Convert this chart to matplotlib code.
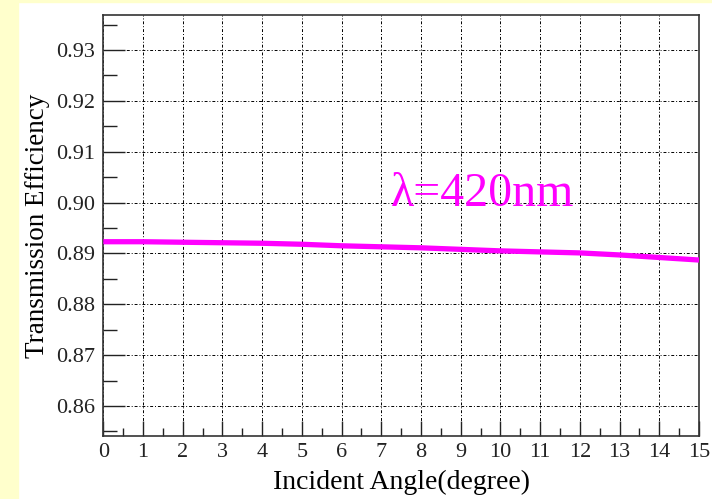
"""
Transmission efficiency vs incident angle at 420 nm
"""

import matplotlib.pyplot as plt
import matplotlib.patches as patches
from matplotlib.ticker import MultipleLocator

angles = [0, 1, 2, 3, 4, 5, 6, 7, 8, 9, 10, 11, 12, 13, 14, 15]
efficiency = [0.8923, 0.8923, 0.8922, 0.8921, 0.8920, 0.8918, 0.8915, 0.8913,
              0.8911, 0.8908, 0.8905, 0.8903, 0.8901, 0.8897, 0.8892, 0.8887]
y_ticks = [0.86, 0.87, 0.88, 0.89, 0.90, 0.91, 0.92, 0.93]
y_tick_labels = ['0.86', '0.87', '0.88', '0.89', '0.90', '0.91', '0.92', '0.93']
x_ticks = list(range(16))
label_text = 'λ=420nm'

plt.rcParams['font.family'] = ['Liberation Serif', 'DejaVu Serif']

fig = plt.figure(figsize=(7.12, 4.99), dpi=100)
fig.patch.set_facecolor('white')

# Yellow slide border strips
yellow = '#FFFFCC'
fig.patches.append(patches.Rectangle((0, 0), 18 / 712, 1, transform=fig.transFigure,
                                     color=yellow, zorder=0))
fig.patches.append(patches.Rectangle((0, 497 / 499), 1, 2 / 499, transform=fig.transFigure,
                                     color=yellow, zorder=0))

ax = fig.add_axes([103.3 / 712, 63 / 499, 595.7 / 712, 421.3 / 499])
ax.plot(angles, efficiency, color='#FF00FF', linewidth=3.8, solid_capstyle='butt', zorder=3)

ax.set_xlim(0, 15)
ax.set_ylim(0.8541, 0.93694)

ax.set_xticks(x_ticks)
ax.xaxis.set_minor_locator(MultipleLocator(0.5))
ax.set_yticks(y_ticks)
ax.set_yticklabels(y_tick_labels)
ax.yaxis.set_minor_locator(MultipleLocator(0.005))

ax.tick_params(axis='both', which='both', direction='in', top=False, right=False,
               labelsize=16, colors='#222222', width=1.0)
ax.tick_params(axis='x', which='major', length=11, pad=5)
ax.tick_params(axis='x', which='minor', length=6)
ax.tick_params(axis='y', which='major', length=16, pad=6)
ax.tick_params(axis='y', which='minor', length=10)

ax.grid(True, which='major', color='black', linewidth=0.7,
        linestyle=(0, (3, 2, 1, 2)))

for side in ax.spines.values():
    side.set_color('#333333')
    side.set_linewidth(1.2)

ax.set_xlabel('Incident Angle(degree)', fontsize=20, labelpad=6)
ax.set_ylabel('Transmission Efficiency', fontsize=19.5, labelpad=4)

ax.text(7.25, 0.89924, label_text, color='#FF00FF', fontsize=34.5, va='baseline',
        ha='left', zorder=4)

fig.savefig('out.png', dpi=100)
plt.close(fig)
